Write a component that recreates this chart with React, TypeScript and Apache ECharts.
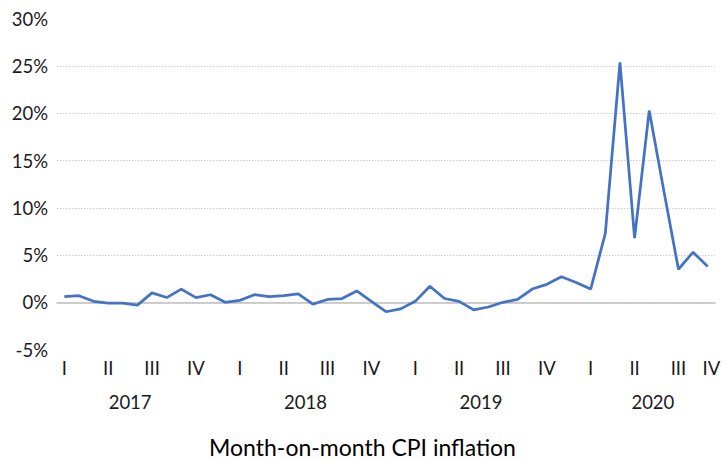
import React, { useEffect, useRef } from "react";
import * as echarts from "echarts";

const months = [
  "2017-01","2017-02","2017-03","2017-04","2017-05","2017-06","2017-07","2017-08","2017-09","2017-10","2017-11","2017-12",
  "2018-01","2018-02","2018-03","2018-04","2018-05","2018-06","2018-07","2018-08","2018-09","2018-10","2018-11","2018-12",
  "2019-01","2019-02","2019-03","2019-04","2019-05","2019-06","2019-07","2019-08","2019-09","2019-10","2019-11","2019-12",
  "2020-01","2020-02","2020-03","2020-04","2020-05","2020-06","2020-07","2020-08","2020-09",
];

const cpi = [
  0.6, 0.7, 0.1, -0.1, -0.1, -0.3, 1.0, 0.5, 1.4, 0.5, 0.8, 0.0,
  0.2, 0.8, 0.6, 0.7, 0.9, -0.2, 0.3, 0.4, 1.2, 0.1, -1.0, -0.7,
  0.1, 1.7, 0.4, 0.1, -0.8, -0.5, 0.0, 0.3, 1.4, 1.9, 2.7, 2.1,
  1.4, 7.3, 25.4, 6.8, 20.3, 11.8, 3.5, 5.3, 3.8,
];

const years = ["2017", "2018", "2019", "2020"];
const quarters = ["I", "II", "III", "IV"];
const yTicks = { min: -5, max: 30, step: 5 };
const titleText = "Month-on-month CPI inflation";

const FONT = "Lato, 'Open Sans', sans-serif";

export default function App() {
  const ref = useRef<HTMLDivElement>(null);

  useEffect(() => {
    if (!ref.current) return;
    const chart = echarts.init(ref.current, undefined, { renderer: "svg" });

    const maxPos = months.length - 0.5;
    const step = 0.25;
    const snap = (v: number) => Math.round(v / step) * step;

    const quarterMap = new Map<string, string>();
    const yearMap = new Map<string, string>();
    years.forEach((y, yi) => {
      const poss: number[] = [];
      quarters.forEach((q, qi) => {
        const p = Math.min(yi * 12 + qi * 3, maxPos - 0.25);
        poss.push(p);
        quarterMap.set(snap(p).toFixed(2), q);
      });
      const c = poss.reduce((a, b) => a + b, 0) / poss.length;
      yearMap.set(snap(c).toFixed(2), y);
    });

    const labelAxisBase = {
      type: "value" as const,
      position: "bottom" as const,
      min: -0.5,
      max: maxPos,
      interval: step,
      axisLine: { show: false },
      axisTick: { show: false },
      splitLine: { show: false },
    };

    const labelStyle = {
      fontFamily: FONT,
      fontSize: 18.5,
      color: "#1a1a1a",
    };

    chart.setOption({
      animation: false,
      backgroundColor: "#ffffff",
      textStyle: { fontFamily: FONT },
      title: {
        text: titleText,
        left: "center",
        top: 430,
        textStyle: { fontFamily: FONT, fontSize: 23, fontWeight: "normal", color: "#000000" },
      },
      grid: { left: 57, top: 19, width: 658, height: 330.5, containLabel: false },
      xAxis: [
        {
          type: "category",
          data: months,
          boundaryGap: true,
          axisLine: { show: true, onZero: true, lineStyle: { color: "#bfbfbf", width: 1.5 } },
          axisTick: { show: false },
          axisLabel: { show: false },
          splitLine: { show: false },
        },
        {
          ...labelAxisBase,
          axisLabel: {
            show: true,
            margin: 9,
            ...labelStyle,
            formatter: (v: number) => quarterMap.get(v.toFixed(2)) ?? "",
          },
        },
        {
          ...labelAxisBase,
          offset: 34,
          axisLabel: {
            show: true,
            margin: 9,
            ...labelStyle,
            formatter: (v: number) => yearMap.get(v.toFixed(2)) ?? "",
          },
        },
      ],
      yAxis: {
        type: "value",
        min: yTicks.min,
        max: yTicks.max,
        interval: yTicks.step,
        axisLine: { show: false },
        axisTick: { show: false },
        axisLabel: {
          margin: 9,
          ...labelStyle,
          formatter: (v: number) => `${v}%`,
        },
        splitLine: {
          show: true,
          showMinLine: false,
          showMaxLine: false,
          lineStyle: { color: "#d0d0d0", type: [1.5, 1.5], width: 1 },
        },
      },
      series: [
        {
          type: "line",
          xAxisIndex: 0,
          data: cpi,
          symbol: "none",
          smooth: false,
          lineStyle: { color: "#4472C4", width: 2.75 },
          itemStyle: { color: "#4472C4" },
        },
      ],
    });

    return () => chart.dispose();
  }, []);

  return (
    <div
      ref={ref}
      style={{ position: "fixed", left: 0, top: 0, width: 725, height: 460, background: "#fff" }}
    />
  );
}
